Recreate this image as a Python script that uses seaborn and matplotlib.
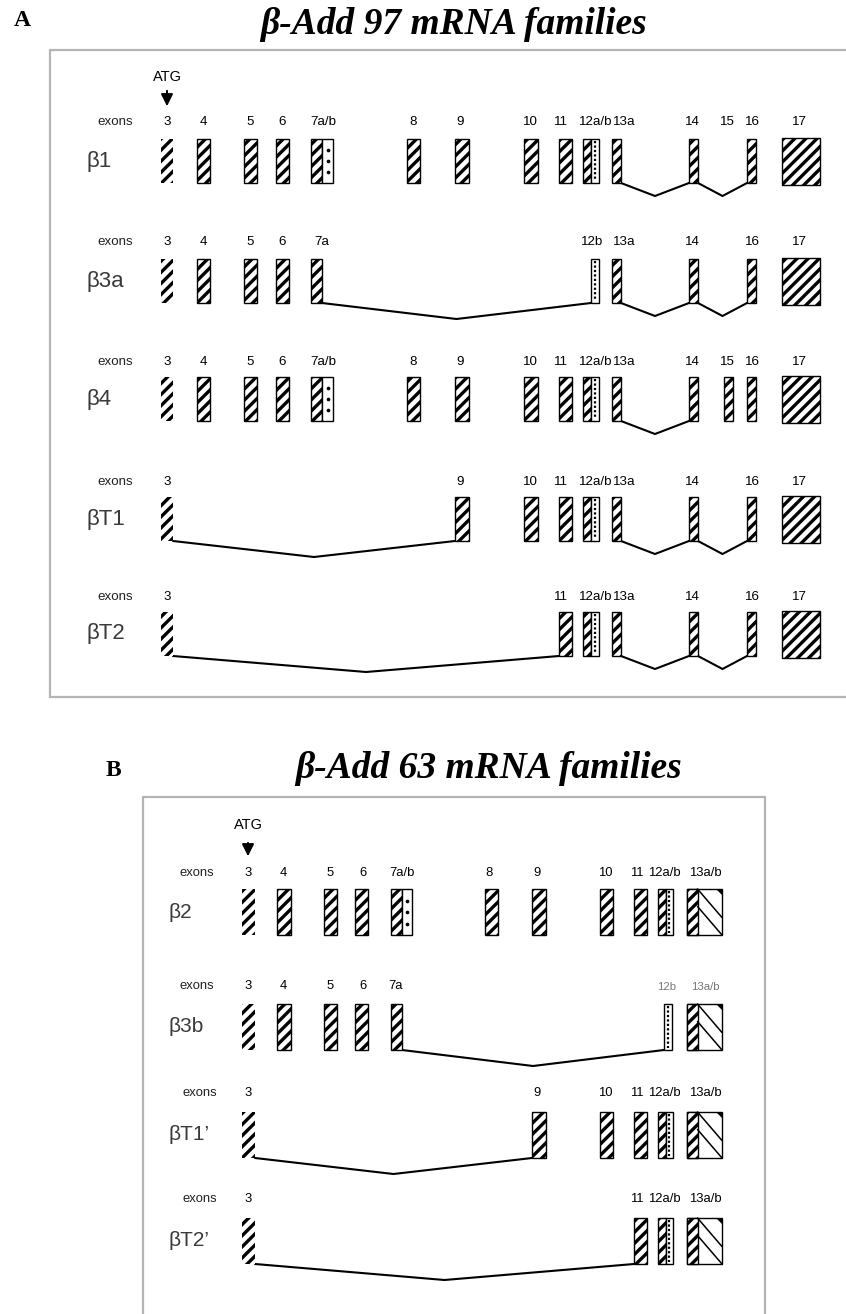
import matplotlib
matplotlib.use("Agg")
import matplotlib.pyplot as plt
from matplotlib.patches import Rectangle, Polygon
import seaborn as sns
import pandas as pd

sns.set_theme(style="white")
plt.rcParams["font.family"] = ["Liberation Sans", "DejaVu Sans"]
plt.rcParams["text.color"] = "black"
plt.rcParams["hatch.linewidth"] = 2.4
plt.rcParams["hatch.color"] = "black"

# ---------------- transcript content ----------------
titles = ["β-Add 97 mRNA families", "β-Add 63 mRNA families"]
panel_tags = ["A", "B"]

isoforms_a = ["β1", "β3a", "β4", "βT1", "βT2"]
exons_a = [
    ["3", "4", "5", "6", "7a/b", "8", "9", "10", "11", "12a/b", "13a", "14", "16", "17"],
    ["3", "4", "5", "6", "7a", "12b", "13a", "14", "16", "17"],
    ["3", "4", "5", "6", "7a/b", "8", "9", "10", "11", "12a/b", "13a", "14", "15", "16", "17"],
    ["3", "9", "10", "11", "12a/b", "13a", "14", "16", "17"],
    ["3", "11", "12a/b", "13a", "14", "16", "17"],
]
labels_a = [
    ["3", "4", "5", "6", "7a/b", "8", "9", "10", "11", "12a/b", "13a", "14", "15", "16", "17"],
    ["3", "4", "5", "6", "7a", "12b", "13a", "14", "16", "17"],
    ["3", "4", "5", "6", "7a/b", "8", "9", "10", "11", "12a/b", "13a", "14", "15", "16", "17"],
    ["3", "9", "10", "11", "12a/b", "13a", "14", "16", "17"],
    ["3", "11", "12a/b", "13a", "14", "16", "17"],
]
junctions_a = [
    [("13a", "14"), ("14", "16")],
    [("7a", "12b"), ("13a", "14"), ("14", "16")],
    [("13a", "14")],
    [("3", "9"), ("13a", "14"), ("14", "16")],
    [("3", "11"), ("13a", "14"), ("14", "16")],
]

isoforms_b = ["β2", "β3b", "βT1’", "βT2’"]
exons_b = [
    ["3", "4", "5", "6", "7a/b", "8", "9", "10", "11", "12a/b", "13a/b"],
    ["3", "4", "5", "6", "7a", "12b", "13a/b"],
    ["3", "9", "10", "11", "12a/b", "13a/b"],
    ["3", "11", "12a/b", "13a/b"],
]
labels_b = exons_b
junctions_b = [
    [],
    [("7a", "12b")],
    [("3", "9")],
    [("3", "11")],
]

# ---------------- drawing layout (pixel space) ----------------
span_a = {"3": (161, 173), "4": (197, 210), "5": (244, 257), "6": (276, 289),
          "7a/b": (311, 333), "7a": (311, 322), "8": (407, 420), "9": (455, 469),
          "10": (524, 538), "11": (559, 572), "12a/b": (583, 599), "12b": (591, 599),
          "13a": (612, 621), "14": (689, 698), "15": (724, 733), "16": (747, 756),
          "17": (782, 820)}
text_x_a = {"3": 167, "4": 203, "5": 250, "6": 282, "7a/b": 323, "7a": 322, "8": 413,
            "9": 460, "10": 530, "11": 561, "12a/b": 596, "12b": 592, "13a": 624,
            "14": 692, "15": 727, "16": 752, "17": 799}
span_b = {"3": (242, 255), "4": (277, 291), "5": (324, 337), "6": (355, 368),
          "7a/b": (391, 412), "7a": (391, 402), "8": (485, 498), "9": (532, 546),
          "10": (600, 613), "11": (634, 647), "12a/b": (658, 673), "12b": (664, 672),
          "13a/b": (687, 722)}
text_x_b = {"3": 248, "4": 283, "5": 330, "6": 363, "7a/b": 402, "7a": 396, "8": 489,
            "9": 537, "10": 605, "11": 637, "12a/b": 664, "12b": 667, "13a/b": 705}

kind = {"3": "start", "7a/b": "dots", "12a/b": "wave", "12b": "wave_only",
        "13a/b": "diag", "17": "big"}

W, H = 846, 1314
fig = plt.figure(figsize=(W / 100, H / 100), dpi=100)
ax = fig.add_axes([0, 0, 1, 1])
ax.set_xlim(0, W)
ax.set_ylim(H, 0)
ax.axis("off")

FRAME = "#b4b4b4"
LW_BOX = 1.0
HATCH = "///"


def hatched(x0, x1, top, h, outline=True):
    ax.add_patch(Rectangle((x0, top), x1 - x0, h, facecolor="white",
                           edgecolor="black", lw=LW_BOX if outline else 0,
                           hatch=HATCH, zorder=3))


def wavy(xc, top, h):
    ax.plot([xc, xc], [top + 2, top + h - 2], color="black", lw=1.6,
            ls=(0, (1.0, 1.0)), zorder=4)


def draw_exon(name, x0, x1, top, h):
    k = kind.get(name, "plain")
    if k == "start":
        hatched(x0, x1, top, h, outline=False)
    elif k == "plain":
        hatched(x0, x1, top, h)
    elif k == "big":
        hatched(x0, x1, top - 1.5, h + 3)
    elif k in ("dots", "wave"):
        xm = (x0 + x1) / 2
        hatched(x0, xm, top, h)
        ax.add_patch(Rectangle((xm, top), x1 - xm, h, facecolor="white",
                               edgecolor="black", lw=LW_BOX, zorder=3))
        xc = (xm + x1) / 2
        if k == "dots":
            sns.scatterplot(x=[xc] * 3, y=[top + h * f for f in (0.25, 0.5, 0.75)],
                            ax=ax, s=7, color="black", marker="o", linewidth=0,
                            zorder=4, legend=False)
        else:
            wavy(xc, top, h)
    elif k == "wave_only":
        ax.add_patch(Rectangle((x0, top), x1 - x0, h, facecolor="white",
                               edgecolor="black", lw=LW_BOX, zorder=3))
        wavy((x0 + x1) / 2, top, h)
    elif k == "diag":
        xs = x0 + 0.3 * (x1 - x0)
        ax.add_patch(Rectangle((x0, top), x1 - x0, h, facecolor="white",
                               edgecolor="black", lw=LW_BOX, zorder=3))
        hatched(x0, xs, top, h)
        for a, b in ((0.0, 0.62), (0.38, 1.0)):
            ax.plot([xs, x1], [top + a * h, top + b * h], color="black",
                    lw=1.1, zorder=4)
        ax.add_patch(Polygon([(x1 - 6, top), (x1, top), (x1, top + 6)],
                             closed=True, facecolor="black", edgecolor="none",
                             zorder=4))


def draw_panel(isoforms, exons, labels, junctions, span, text_x,
               label_y, box_top, box_h, exons_x, name_x, num_size, name_size):
    rows = []
    for r, iso in enumerate(isoforms):
        ly, top = label_y[r], box_top[r]
        ax.text(exons_x[r], ly, "exons", fontsize=num_size, ha="center",
                va="center", color="#222")
        for lab in labels[r]:
            faint = iso == "β3b" and lab in ("12b", "13a/b")
            ax.text(text_x[lab], ly + (1 if faint else 0), lab,
                    fontsize=num_size - (1.2 if faint else 0),
                    ha="center", va="center",
                    color="#777" if faint else "black")
        ax.text(name_x, top + box_h / 2, iso, fontsize=name_size, ha="left",
                va="center", color="#3a3a3a")
        for ex in exons[r]:
            x0, x1 = span[ex]
            draw_exon(ex, x0, x1, top, box_h)
        bottom = top + box_h
        for j, (e1, e2) in enumerate(junctions[r]):
            xa = span[e1][1]
            xb = span[e2][0]
            depth = 16 if xb - xa > 200 else 13
            xv = (xa + xb) / 2
            uid = f"{iso}-{j}"
            rows += [(uid, xa, bottom), (uid, xv, bottom + depth), (uid, xb, bottom)]
    df = pd.DataFrame(rows, columns=["junction", "x", "y"])
    if len(df):
        sns.lineplot(data=df, x="x", y="y", units="junction", estimator=None,
                     color="black", lw=1.5, ax=ax, zorder=2, legend=False)


# ---------------- panel A ----------------
ax.text(22, 20, panel_tags[0], fontsize=17, fontweight="bold",
        family="Liberation Serif", ha="center", va="center")
ax.text(454, 24, titles[0], fontsize=27, fontweight="bold", style="italic",
        family="Liberation Serif", ha="center", va="center")
for xs_, ys_ in (([50, 846], [50, 50]), ([50, 50], [50, 697]), ([50, 846], [697, 697])):
    ax.plot(xs_, ys_, color=FRAME, lw=1.6, zorder=1)
ax.text(167, 77, "ATG", fontsize=10.5, ha="center", va="center")
ax.annotate("", xy=(167, 109), xytext=(167, 88),
            arrowprops=dict(arrowstyle="-|>,head_length=0.6,head_width=0.3",
                            color="black", lw=1.4))
draw_panel(isoforms_a, exons_a, labels_a, junctions_a, span_a, text_x_a,
           label_y=[122, 242, 362, 482, 597], box_top=[139, 259, 377, 497, 612],
           box_h=44, exons_x=[115] * 5, name_x=87, num_size=9.6, name_size=16)

# ---------------- panel B ----------------
ax.text(113, 770, panel_tags[1], fontsize=17, fontweight="bold",
        family="Liberation Serif", ha="center", va="center")
ax.text(489, 768, titles[1], fontsize=27, fontweight="bold", style="italic",
        family="Liberation Serif", ha="center", va="center")
for xs_, ys_ in (([143, 765], [797, 797]), ([143, 143], [797, 1314]), ([765, 765], [797, 1314])):
    ax.plot(xs_, ys_, color=FRAME, lw=1.6, zorder=1)
ax.text(248, 825, "ATG", fontsize=10.5, ha="center", va="center")
ax.annotate("", xy=(248, 859), xytext=(248, 840),
            arrowprops=dict(arrowstyle="-|>,head_length=0.6,head_width=0.3",
                            color="black", lw=1.4))
draw_panel(isoforms_b, exons_b, labels_b, junctions_b, span_b, text_x_b,
           label_y=[873, 986, 1093, 1199], box_top=[889, 1004, 1112, 1218],
           box_h=46, exons_x=[197, 197, 200, 200], name_x=168, num_size=9.4,
           name_size=15)

ax.set_xlim(0, W)
ax.set_ylim(H, 0)
ax.axis("off")
fig.savefig("out.png", dpi=100, facecolor="white")
